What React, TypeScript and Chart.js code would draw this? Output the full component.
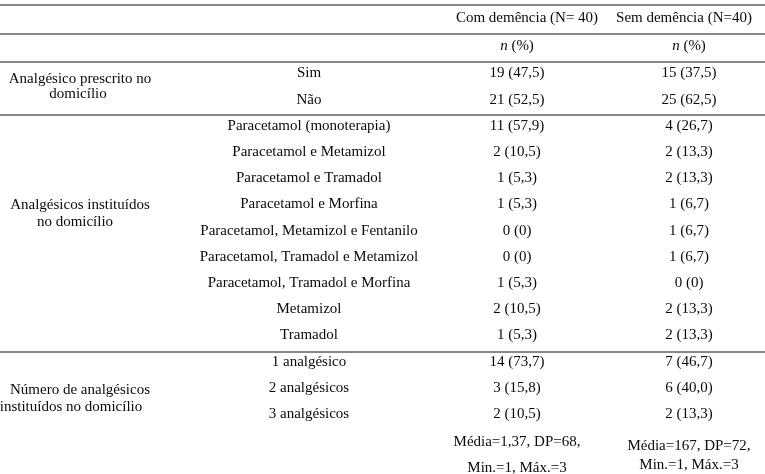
import React, { useEffect, useRef } from "react";
import { Chart, registerables } from "chart.js";

Chart.register(...registerables);

// ---------- data ----------
const groupHeaders = ["Com demência (N= 40)", "Sem demência (N=40)"];
const subHeaderItalic = "n";
const subHeaderRest = " (%)";

const items = [
  "Sim",
  "Não",
  "Paracetamol (monoterapia)",
  "Paracetamol e Metamizol",
  "Paracetamol e Tramadol",
  "Paracetamol e Morfina",
  "Paracetamol, Metamizol e Fentanilo",
  "Paracetamol, Tramadol e Metamizol",
  "Paracetamol, Tramadol e Morfina",
  "Metamizol",
  "Tramadol",
  "1 analgésico",
  "2 analgésicos",
  "3 analgésicos",
];

const comDemencia = [
  "19 (47,5)",
  "21 (52,5)",
  "11 (57,9)",
  "2 (10,5)",
  "1 (5,3)",
  "1 (5,3)",
  "0 (0)",
  "0 (0)",
  "1 (5,3)",
  "2 (10,5)",
  "1 (5,3)",
  "14 (73,7)",
  "3 (15,8)",
  "2 (10,5)",
];

const semDemencia = [
  "15 (37,5)",
  "25 (62,5)",
  "4 (26,7)",
  "2 (13,3)",
  "2 (13,3)",
  "1 (6,7)",
  "1 (6,7)",
  "1 (6,7)",
  "0 (0)",
  "2 (13,3)",
  "2 (13,3)",
  "7 (46,7)",
  "6 (40,0)",
  "2 (13,3)",
];

const groupLabels = [
  ["Analgésico prescrito no", "domicílio"],
  ["Analgésicos instituídos", "no domicílio"],
  ["Número de analgésicos", "instituídos no domicílio"],
];

const summaryCom = ["Média=1,37, DP=68,", "Min.=1, Máx.=3"];
const summarySem = ["Média=167, DP=72,", "Min.=1, Máx.=3"];

// ---------- layout (row units / x pixels) ----------
const ROW_MIN = -2.73;
const ROW_MAX = 15.36;
const headerRow = -2.12;
const subHeaderRow = -1.05;
const ruleRows = [-2.54, -1.45, -0.36, 1.64, 10.69];
const groupLabelRows = [
  [0.21, 0.78],
  [5.02, 5.67],
  [12.08, 12.73],
];
const groupLabelX = [
  [80, 78],
  [80, 75],
  [80, 71],
];
const summaryRowsCom = [14.06, 15.05];
const summaryRowsSem = [14.2, 14.94];
const headerX = [527, 684];
const colX = { item: 309, com: 517, sem: 689 };
const TEXT_DY = 2;

const FONT_FAMILY = '"Liberation Serif", "Times New Roman", serif';
const FONT = `15px ${FONT_FAMILY}`;
const TEXT_COLOR = "#0a0a0a";
const RULE_COLOR = "#888888";

const tablePlugin = {
  id: "tableText",
  afterDraw(chart: any) {
    const { ctx } = chart;
    const xs = chart.scales.x;
    const ys = chart.scales.y;
    const px = (v: number) => xs.getPixelForValue(v);
    const py = (v: number) => ys.getPixelForValue(v) + TEXT_DY;
    ctx.save();
    // rules
    ctx.strokeStyle = RULE_COLOR;
    ctx.lineWidth = 2;
    ruleRows.forEach((r) => {
      const yy = Math.round(ys.getPixelForValue(r));
      ctx.beginPath();
      ctx.moveTo(xs.left, yy);
      ctx.lineTo(xs.right, yy);
      ctx.stroke();
    });
    ctx.fillStyle = TEXT_COLOR;
    ctx.font = FONT;
    ctx.textAlign = "center";
    ctx.textBaseline = "middle";
    // headers
    groupHeaders.forEach((h, i) => ctx.fillText(h, px(headerX[i]), py(headerRow)));
    // sub header n (%)
    [colX.com, colX.sem].forEach((cx) => {
      ctx.font = `italic 15px ${FONT_FAMILY}`;
      const w1 = ctx.measureText(subHeaderItalic).width;
      ctx.font = FONT;
      const w2 = ctx.measureText(subHeaderRest).width;
      const start = px(cx) - (w1 + w2) / 2;
      ctx.textAlign = "left";
      ctx.font = `italic 15px ${FONT_FAMILY}`;
      ctx.fillText(subHeaderItalic, start, py(subHeaderRow));
      ctx.font = FONT;
      ctx.fillText(subHeaderRest, start + w1, py(subHeaderRow));
      ctx.textAlign = "center";
    });
    // items & values
    items.forEach((it, i) => {
      ctx.fillText(it, px(colX.item), py(i));
      ctx.fillText(comDemencia[i], px(colX.com), py(i));
      ctx.fillText(semDemencia[i], px(colX.sem), py(i));
    });
    // group labels
    groupLabels.forEach((lines, g) => {
      lines.forEach((l, j) => ctx.fillText(l, px(groupLabelX[g][j]), py(groupLabelRows[g][j])));
    });
    // summary
    summaryCom.forEach((s, j) => ctx.fillText(s, px(colX.com), py(summaryRowsCom[j])));
    summarySem.forEach((s, j) => ctx.fillText(s, px(colX.sem), py(summaryRowsSem[j])));
    ctx.restore();
  },
};

export default function App() {
  const ref = useRef<HTMLCanvasElement | null>(null);
  useEffect(() => {
    document.body.style.margin = "0";
    const canvas = ref.current;
    if (!canvas) return;
    const chart = new Chart(canvas, {
      type: "scatter",
      data: {
        datasets: [
          {
            label: "Com demência",
            data: comDemencia.map((_, i) => ({ x: colX.com, y: i })),
            pointRadius: 0,
            showLine: false,
          },
          {
            label: "Sem demência",
            data: semDemencia.map((_, i) => ({ x: colX.sem, y: i })),
            pointRadius: 0,
            showLine: false,
          },
        ],
      },
      options: {
        responsive: false,
        animation: false,
        devicePixelRatio: 1,
        layout: { padding: 0 },
        plugins: { legend: { display: false }, tooltip: { enabled: false }, title: { display: false } },
        scales: {
          x: { type: "linear", min: 0, max: 765, display: false },
          y: { type: "linear", min: ROW_MIN, max: ROW_MAX, reverse: true, display: false },
        },
      },
      plugins: [tablePlugin],
    });
    return () => chart.destroy();
  }, []);
  return (
    <div style={{ position: "absolute", left: 0, top: 0, width: 765, height: 474, background: "#fff" }}>
      <canvas ref={ref} width={765} height={474} style={{ display: "block" }} />
    </div>
  );
}
